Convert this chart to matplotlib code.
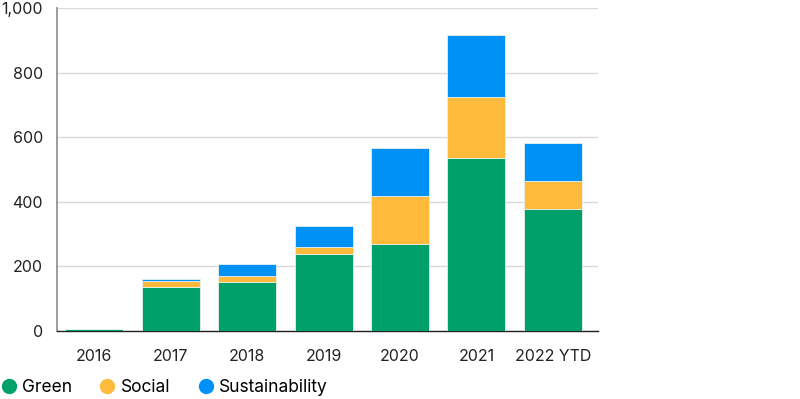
import numpy as np
import matplotlib.pyplot as plt
from matplotlib.lines import Line2D

years = ['2016', '2017', '2018', '2019', '2020', '2021', '2022 YTD']
green = [5, 137, 153, 238, 269, 535, 379]
social = [0, 18, 16, 23, 150, 188, 85]
sustainability = [0, 6, 38, 63, 148, 194, 117]

series_names = ['Green', 'Social', 'Sustainability']
colors = ['#00A06B', '#FDBA3B', '#0091F7']

plt.rcParams['font.family'] = ['Inter', 'DejaVu Sans']

fig = plt.figure(figsize=(8.0, 3.99), dpi=100)
ax = fig.add_axes([0.07125, 0.1704, 0.676, 0.8096])

x = np.arange(len(years))
bottom = np.zeros(len(years))
for vals, col in zip([green, social, sustainability], colors):
    ax.bar(x, vals, width=0.76, bottom=bottom, color=col,
           edgecolor='#e8f0ec', linewidth=0.6, zorder=3)
    bottom += np.array(vals)

ax.set_ylim(0, 1000)
ax.set_xlim(-0.49, 6.59)
ax.set_yticks([0, 200, 400, 600, 800, 1000])
ax.set_yticklabels(['0', '200', '400', '600', '800', '1,000'])
ax.set_xticks(x)
ax.set_xticklabels(years)
ax.yaxis.grid(True, color='#d9d9d9', linewidth=1, zorder=0)
ax.set_axisbelow(True)

for s in ['top', 'right']:
    ax.spines[s].set_visible(False)
ax.spines['left'].set_color('#8c8c8c')
ax.spines['left'].set_linewidth(1.2)
ax.spines['bottom'].set_color('#222222')
ax.spines['bottom'].set_linewidth(1)
ax.tick_params(axis='both', length=0, labelsize=11.5, colors='#222222')
ax.tick_params(axis='y', pad=10)
ax.tick_params(axis='x', pad=13)

handles = [Line2D([], [], marker='o', linestyle='none', markersize=10,
                  markerfacecolor=c, markeredgecolor=c) for c in colors]
fig.legend(handles, series_names, loc='center left',
           bbox_to_anchor=(0.0, 1 - 388 / 399), frameon=False,
           ncol=3, fontsize=12.5, handletextpad=0.25, columnspacing=1.55,
           borderpad=0, borderaxespad=0, handlelength=1.0)

fig.savefig('out.png', dpi=100)
